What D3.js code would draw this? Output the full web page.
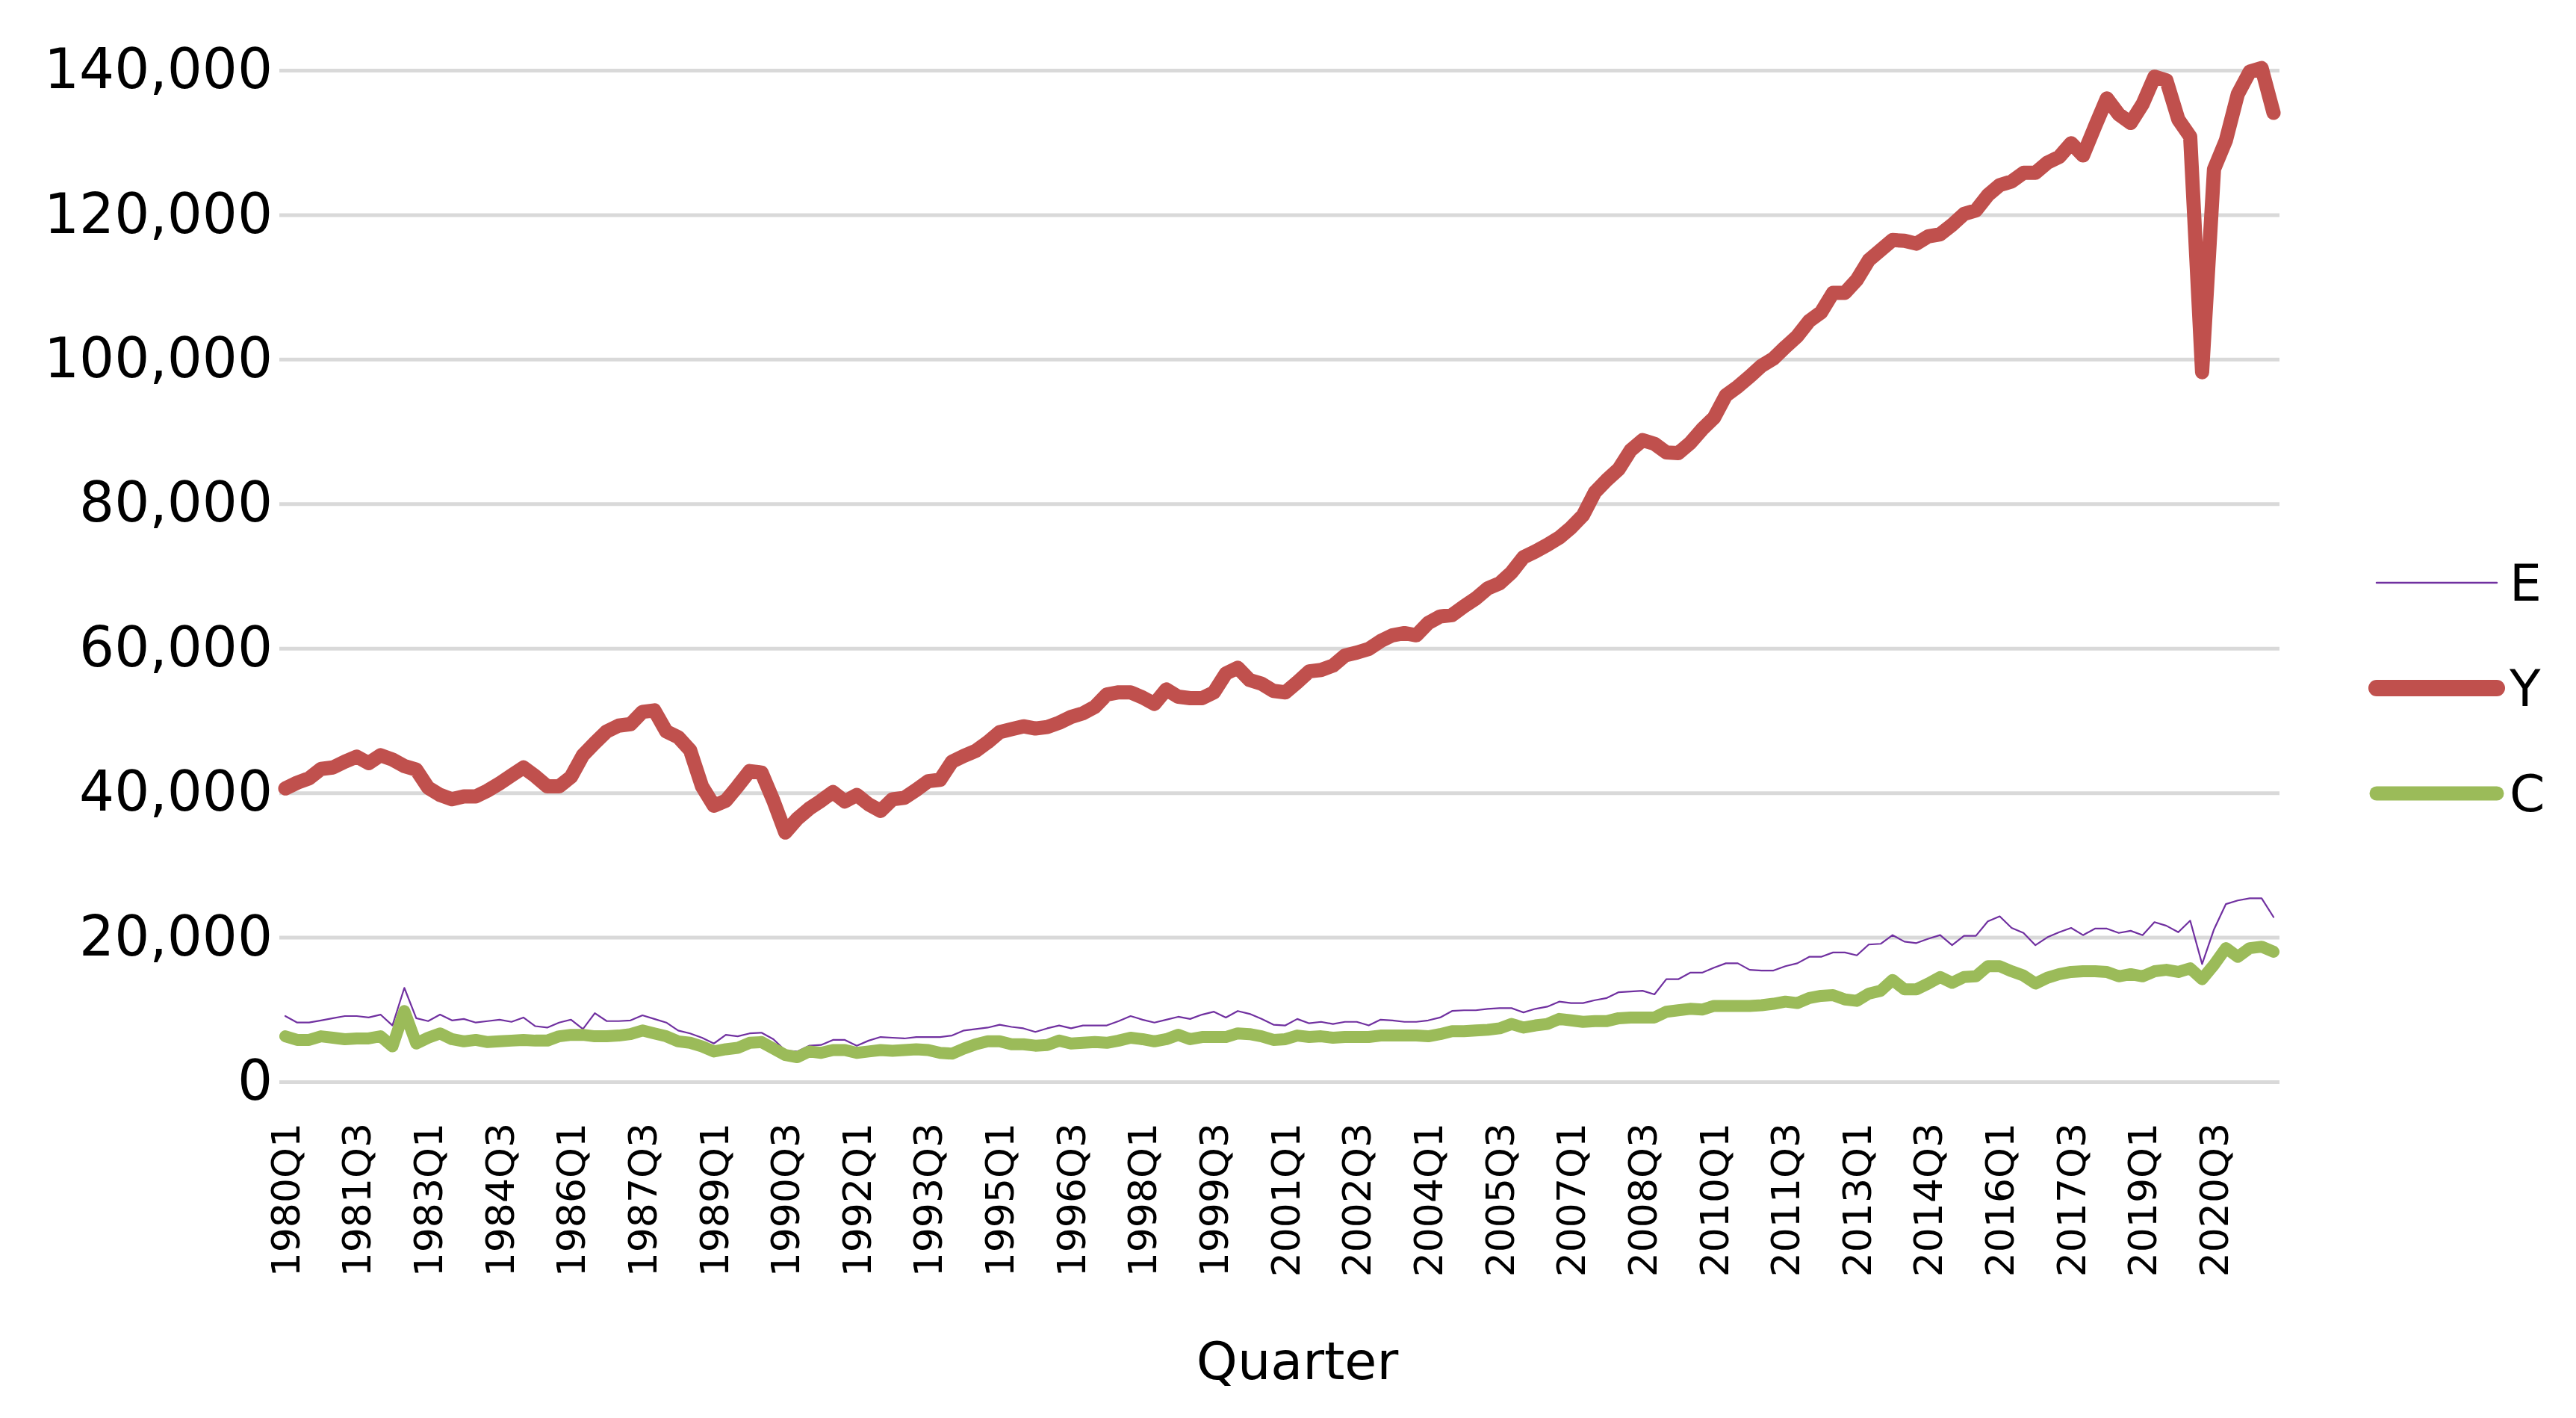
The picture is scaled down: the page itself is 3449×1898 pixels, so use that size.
<!DOCTYPE html>
<html>
<head>
<meta charset="utf-8">
<script src="https://cdn.jsdelivr.net/npm/d3@7"></script>
<style>
  html, body { margin: 0; padding: 0; background: #fff; overflow: hidden; }
  svg { display: block; }
  text { font-family: "DejaVu Sans", sans-serif; fill: #000; }
</style>
</head>
<body>
<div id="chart"></div>
<script>
// Categories: one per quarter, 1980Q1 .. 2021Q4
const years = d3.range(1980, 2022);
const quarters = years.flatMap(y => ["Q1", "Q2", "Q3", "Q4"].map(q => y + q));

// Tick labels on the category axis (every sixth quarter)
const xTickLabels = ["1980Q1", "1981Q3", "1983Q1", "1984Q3", "1986Q1", "1987Q3", "1989Q1",
  "1990Q3", "1992Q1", "1993Q3", "1995Q1", "1996Q3", "1998Q1", "1999Q3", "2001Q1", "2002Q3",
  "2004Q1", "2005Q3", "2007Q1", "2008Q3", "2010Q1", "2011Q3", "2013Q1", "2014Q3", "2016Q1",
  "2017Q3", "2019Q1", "2020Q3"];
const yTicks = [0, 20000, 40000, 60000, 80000, 100000, 120000, 140000];

// Series values
const seriesE = [
  9100, 8200, 8200, 8500, 8800, 9100, 9100, 8900, 9300, 7800,
  13000, 8800, 8400, 9300, 8500, 8700, 8200, 8400, 8600, 8300,
  8900, 7700, 7500, 8200, 8600, 7300, 9500, 8400, 8400, 8500,
  9200, 8700, 8200, 7100, 6700, 6100, 5300, 6500, 6300, 6700,
  6800, 5900, 4300, 4200, 5000, 5100, 5800, 5800, 5000, 5700,
  6200, 6100, 6000, 6200, 6200, 6200, 6400, 7100, 7300, 7500,
  7900, 7600, 7400, 6900, 7400, 7800, 7400, 7800, 7800, 7800,
  8400, 9100, 8600, 8200, 8600, 9000, 8700, 9300, 9700, 8900,
  9800, 9400, 8700, 7900, 7800, 8700, 8100, 8300, 8000, 8300,
  8300, 7800, 8600, 8500, 8300, 8300, 8500, 8900, 9800, 9900,
  9900, 10100, 10200, 10200, 9600, 10100, 10400, 11100, 10900, 10900,
  11300, 11600, 12400, 12500, 12600, 12100, 14200, 14200, 15100, 15100,
  15800, 16400, 16400, 15500, 15400, 15400, 16000, 16400, 17300, 17300,
  17900, 17900, 17500, 19000, 19100, 20300, 19400, 19200, 19800, 20300,
  18900, 20200, 20200, 22200, 22900, 21300, 20600, 18900, 20000, 20700,
  21300, 20300, 21200, 21200, 20600, 20900, 20300, 22100, 21600, 20700,
  22300, 16300, 21100, 24600, 25100, 25400, 25400, 22800
];

const seriesY = [
  40600, 41400, 42000, 43300, 43500, 44300, 45000, 44100, 45200, 44600,
  43700, 43200, 40700, 39700, 39100, 39500, 39500, 40300, 41300, 42400,
  43500, 42300, 40900, 40900, 42200, 45200, 46900, 48500, 49300, 49500,
  51200, 51400, 48500, 47700, 45900, 40900, 38200, 38900, 40900, 43000,
  42800, 38900, 34500, 36400, 37800, 38900, 40100, 38800, 39700, 38400,
  37500, 39100, 39300, 40400, 41600, 41800, 44300, 45100, 45800, 47000,
  48400, 48800, 49200, 48900, 49100, 49700, 50500, 51000, 51900, 53600,
  53900, 53900, 53200, 52300, 54300, 53300, 53100, 53100, 53900, 56500,
  57300, 55600, 55100, 54100, 53900, 55300, 56800, 57000, 57600, 59000,
  59400, 59900, 61000, 61800, 62100, 61800, 63500, 64400, 64600, 65800,
  66900, 68300, 69000, 70500, 72600, 73400, 74300, 75300, 76700, 78400,
  81600, 83300, 84800, 87400, 88800, 88300, 87100, 87000, 88400, 90300,
  91900, 95000, 96200, 97600, 99100, 100100, 101700, 103200, 105300, 106500,
  109200, 109200, 111000, 113700, 115100, 116500, 116400, 116000, 117000, 117300,
  118600, 120100, 120600, 122700, 124100, 124600, 125800, 125800, 127200, 128000,
  129900, 128200, 132200, 136100, 133900, 132700, 135300, 139100, 138600, 133200,
  130800, 98200, 126300, 130300, 136700, 139800, 140300, 134100
];

const seriesC = [
  6300, 5800, 5800, 6300, 6100, 5900, 6000, 6000, 6300, 4900,
  9800, 5300, 6100, 6700, 5900, 5600, 5800, 5500, 5600, 5700,
  5800, 5700, 5700, 6300, 6500, 6500, 6300, 6300, 6400, 6600,
  7100, 6700, 6300, 5600, 5400, 4900, 4200, 4500, 4700, 5400,
  5500, 4600, 3700, 3400, 4200, 4000, 4400, 4400, 4000, 4200,
  4400, 4300, 4400, 4500, 4400, 4000, 3900, 4600, 5200, 5600,
  5600, 5200, 5200, 5000, 5100, 5700, 5300, 5400, 5500, 5400,
  5700, 6100, 5900, 5600, 5900, 6500, 5900, 6200, 6200, 6200,
  6700, 6600, 6300, 5800, 5900, 6400, 6200, 6300, 6100, 6200,
  6200, 6200, 6400, 6400, 6400, 6400, 6300, 6600, 7000, 7000,
  7100, 7200, 7400, 8000, 7500, 7800, 8000, 8700, 8500, 8300,
  8400, 8400, 8800, 8900, 8900, 8900, 9700, 9900, 10100, 10000,
  10500, 10500, 10500, 10500, 10600, 10800, 11100, 10900, 11600, 11900,
  12000, 11400, 11200, 12200, 12600, 14100, 12800, 12800, 13600, 14500,
  13700, 14500, 14600, 16000, 16000, 15300, 14700, 13600, 14400, 14900,
  15200, 15300, 15300, 15200, 14600, 14900, 14600, 15300, 15500, 15200,
  15700, 14200, 16200, 18500, 17300, 18500, 18700, 18000
];

const seriesNames = ["E", "Y", "C"];
const seriesColors = ["#7030a0", "#c0504d", "#9bbb59"];
const seriesWidths = [2.2, 19, 16];

// Size
const width = 3449,
      height = 1898,
      margin = { top: 94, right: 397, bottom: 450, left: 374 },
      innerWidth = width - margin.left - margin.right,
      innerHeight = height - margin.top - margin.bottom;

const svg = d3.select("#chart").append("svg")
    .attr("width", width)
    .attr("height", height);

const g = svg.append("g")
    .attr("transform", "translate(" + margin.left + "," + margin.top + ")");

// Scales
const xScale = d3.scaleBand()
    .domain(quarters)
    .range([0, innerWidth])
    .padding(0);

const xCenter = q => xScale(q) + xScale.bandwidth() / 2;

const yScale = d3.scaleLinear()
    .domain([0, 140000])
    .range([innerHeight, 0]);

// Gridlines + y labels
const yAxis = d3.axisLeft(yScale)
    .tickValues(yTicks)
    .tickSize(-innerWidth)
    .tickPadding(9)
    .tickFormat(d3.format(","));

const gY = g.append("g")
    .attr("class", "yAxis")
    .call(yAxis);

gY.select(".domain").remove();
gY.selectAll(".tick line")
    .style("stroke", "#d9d9d9")
    .style("stroke-width", 5);
gY.selectAll(".tick text")
    .style("font-size", "74px")
    .style("font-family", "DejaVu Sans")
    .style("fill", "#000");

// Category axis: labels turned to read upwards
const xAxis = d3.axisBottom(xScale)
    .tickValues(xTickLabels)
    .tickSize(0);

const gX = g.append("g")
    .attr("class", "xAxis")
    .attr("transform", "translate(0," + innerHeight + ")")
    .call(xAxis);

gX.select(".domain").remove();
gX.selectAll(".tick text")
    .attr("transform", "translate(0,55) rotate(-90)")
    .attr("x", 0)
    .attr("y", 0)
    .attr("dy", "0.36em")
    .style("text-anchor", "end")
    .style("font-size", "52px")
    .style("font-family", "DejaVu Sans")
    .style("fill", "#000");

// Lines
const lineShape = d3.line()
    .x((d, i) => xCenter(quarters[i]))
    .y(d => yScale(d));

const seriesData = [seriesE, seriesY, seriesC];

g.append("g").attr("class", "lines")
  .selectAll("path")
    .data(seriesData)
  .enter().append("path")
    .attr("d", lineShape)
    .style("fill", "none")
    .style("stroke", (d, i) => seriesColors[i])
    .style("stroke-width", (d, i) => seriesWidths[i])
    .style("stroke-linejoin", "round")
    .style("stroke-linecap", "round");

// Axis title
svg.append("text")
    .attr("x", 1737)
    .attr("y", 1846)
    .style("text-anchor", "middle")
    .style("font-size", "70px")
    .text("Quarter");

// Legend
const legendY = [780, 921, 1062];
const legend = svg.append("g").attr("class", "legend");

const item = legend.selectAll(".item")
    .data(seriesNames)
  .enter().append("g")
    .attr("class", "item")
    .attr("transform", (d, i) => "translate(0," + legendY[i] + ")");

item.append("line")
    .attr("x1", 3182)
    .attr("x2", 3343)
    .style("stroke", (d, i) => seriesColors[i])
    .style("stroke-width", (d, i) => i === 0 ? 2.5 : seriesWidths[i] + 3)
    .style("stroke-linecap", "round");

item.append("text")
    .attr("x", 3360)
    .attr("dy", "0.36em")
    .style("font-size", "68px")
    .text(d => d);
</script>
</body>
</html>
